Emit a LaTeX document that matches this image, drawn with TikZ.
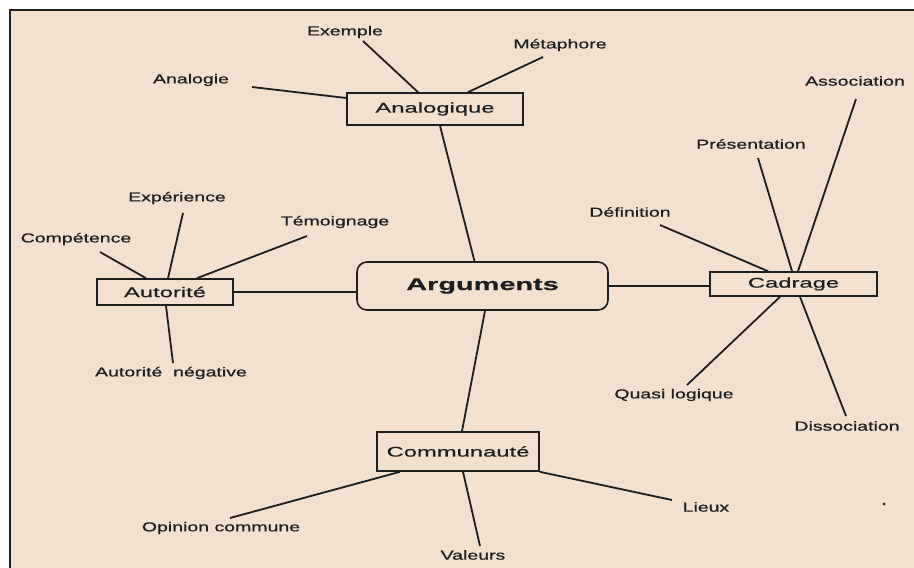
\documentclass[tikz,border=0pt]{standalone}
\usepackage{fontspec}
\setmainfont{Liberation Sans}
\newfontfamily\leaffont[FakeStretch=1.5,FakeBold=0.8]{Liberation Sans}
\newfontfamily\boxfont[FakeStretch=1.7,FakeBold=0.6]{Liberation Sans}
\definecolor{paper}{RGB}{243,224,206}
\definecolor{ink}{RGB}{30,30,30}

\begin{document}
\begin{tikzpicture}[x=1pt,y=-1pt,
  leaf/.style={font=\leaffont\fontsize{13}{15}\selectfont, text=ink, inner sep=1pt},
  branch/.style={draw=ink, line width=1.6pt, font=\boxfont\fontsize{14}{16}\selectfont, text=ink, inner sep=0pt},
  link/.style={draw=ink, line width=1.8pt}]
\useasboundingbox (0,0) rectangle (914,568);
\fill[white] (0,0) rectangle (914,568);
\fill[paper] (10,10) rectangle (914,568);
\draw[ink, line width=1.8pt] (10,568) -- (10,10) -- (914,10);

% centre and branches
\node[branch, rounded corners=10pt, minimum width=251pt, minimum height=48pt,
  font=\boxfont\bfseries\fontsize{17}{19}\selectfont] (args) at (482.5,286) {Arguments};
\node[branch, minimum width=176pt, minimum height=32pt] (analog) at (435,109) {Analogique};
\node[branch, minimum width=136pt, minimum height=26pt] (autor) at (165,292) {Autorité};
\node[branch, minimum width=167pt, minimum height=24pt] (cadr) at (793.5,284) {Cadrage};
\node[branch, minimum width=162pt, minimum height=39pt] (commu) at (458,451.5) {Communauté};

% leaves
\node[leaf] (exemple) at (345,32) {Exemple};
\node[leaf] (metaph) at (560,45) {Métaphore};
\node[leaf] (analogie) at (191,80) {Analogie};
\node[leaf] (exper) at (177,198) {Expérience};
\node[leaf] (compet) at (76,239) {Compétence};
\node[leaf] (temoin) at (335,222) {Témoignage};
\node[leaf] (autneg) at (171,373) {Autorité\ \ négative};
\node[leaf] (assoc) at (855,81) {Association};
\node[leaf] (present) at (751,144) {Présentation};
\node[leaf] (defin) at (630,212) {Définition};
\node[leaf] (quasi) at (674,395) {Quasi logique};
\node[leaf] (dissoc) at (847,426) {Dissociation};
\node[leaf] (opinion) at (221,528) {Opinion commune};
\node[leaf] (valeurs) at (473,555) {Valeurs};
\node[leaf] (lieux) at (706,507) {Lieux};

\draw[link] ([shift={(5,0)}]analog.south) -- ([shift={(-8,0)}]args.north);
\draw[link] (autor.east) -- (autor.east -| args.west);
\draw[link] (args.east) -- (args.east -| cadr.west);
\draw[link] ([shift={(2.5,0)}]args.south) -- ([shift={(4,0)}]commu.north);

\draw[link] ([shift={(-17,0)}]analog.north) -- ([shift={(18,9)}]exemple.center);
\draw[link] ([shift={(33,0)}]analog.north) -- ([shift={(-17,12)}]metaph.center);
\draw[link] ([shift={(0,-11)}]analog.west) -- ([shift={(61,7)}]analogie.center);

\draw[link] ([shift={(3,0)}]autor.north) -- ([shift={(6,15)}]exper.center);
\draw[link] ([shift={(-19,0)}]autor.north) -- ([shift={(24,13)}]compet.center);
\draw[link] ([shift={(32,0)}]autor.north) -- ([shift={(-28,14)}]temoin.center);
\draw[link] ([shift={(1,0)}]autor.south) -- ([shift={(2,-10)}]autneg.center);

\draw[link] ([shift={(4.5,0)}]cadr.north) -- ([shift={(1,18)}]assoc.center);
\draw[link] ([shift={(-1.5,0)}]cadr.north) -- ([shift={(7,14)}]present.center);
\draw[link] ([shift={(-25.5,0)}]cadr.north) -- ([shift={(30,13)}]defin.center);
\draw[link] ([shift={(-13.5,0)}]cadr.south) -- ([shift={(13,-10)}]quasi.center);
\draw[link] ([shift={(6.5,0)}]cadr.south) -- ([shift={(-1,-10)}]dissoc.center);

\draw[link] ([shift={(-58,0)}]commu.south) -- ([shift={(9,-10)}]opinion.center);
\draw[link] ([shift={(5,0)}]commu.south) -- ([shift={(7,-9)}]valeurs.center);
\draw[link] (commu.south east) -- ([shift={(-34,-7)}]lieux.center);

\fill[ink] (884,504) circle (1.5);
\end{tikzpicture}
\end{document}
